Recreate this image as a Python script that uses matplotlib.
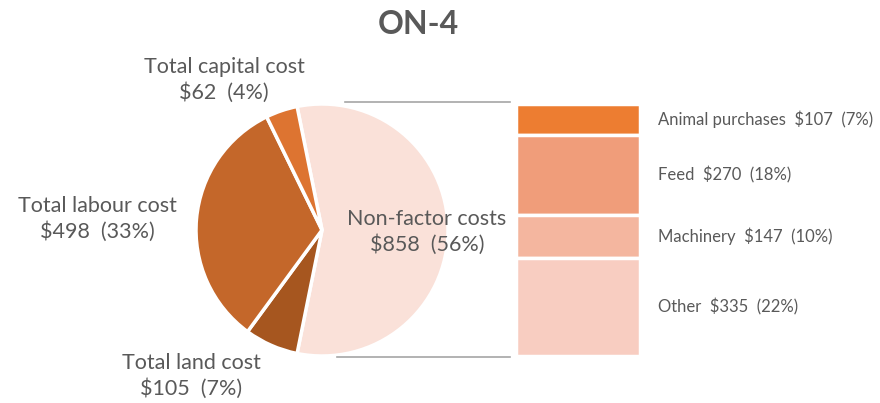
import numpy as np
import matplotlib.pyplot as plt

plt.rcParams['font.family'] = ['Lato', 'DejaVu Sans']

# pie data
pie_labels = ['Non-factor costs', 'Total land cost', 'Total labour cost', 'Total capital cost']
pie_values = [858, 105, 498, 62]
pie_pcts = [56, 7, 33, 4]
pie_colors = ['#FAE1D9', '#A6561F', '#C4672A', '#DD7431']

# bar-of-pie breakdown (top to bottom)
bar_labels = ['Animal purchases', 'Feed', 'Machinery', 'Other']
bar_values = [107, 270, 147, 335]
bar_pcts = [7, 18, 10, 22]
bar_colors = ['#ED7D31', '#F09D7A', '#F4B69F', '#F8CDC1']

TEXT = '#595959'
W, H = 880, 403

fig = plt.figure(figsize=(8.8, 4.03), dpi=100)
ax = fig.add_axes([0, 0, 1, 1])

cx, cy, r = 322, H - 230, 126
total = sum(pie_values)
start = 180 * pie_values[0] / total  # centre the big slice on the right
ax.pie(pie_values, colors=pie_colors, startangle=start, counterclock=False,
       center=(cx, cy), radius=r, frame=True,
       wedgeprops=dict(edgecolor='white', linewidth=2.5))
ax.set_xlim(0, W)
ax.set_ylim(0, H)
ax.axis('off')

# pie labels
label_pos = [(427, H - 232), (191, H - 376), (97, H - 219), (224, H - 80)]
for lab, v, p, (x, y) in zip(pie_labels, pie_values, pie_pcts, label_pos):
    ax.text(x, y, f'{lab}\n${v}  ({p}%)', ha='center', va='center', fontsize=15.5,
            color=TEXT, linespacing=1.3)

# stacked bar
bar_x, bar_w = 578, 124
top, bottom = H - 104, H - 356
scale = (top - bottom) / sum(bar_values)
y = top
for lab, v, p, c in zip(bar_labels, bar_values, bar_pcts, bar_colors):
    h = v * scale
    ax.bar(bar_x, h, width=bar_w, bottom=y - h, color=c, edgecolor='white', linewidth=2.5)
    ax.text(658, y - h / 2, f'{lab}  ${v}  ({p}%)', ha='left', va='center',
            fontsize=12, color=TEXT)
    y -= h

# connector lines
ax.plot([345, 510], [H - 102, H - 102], color='#A6A6A6', linewidth=1.2)
ax.plot([337, 510], [H - 357, H - 357], color='#A6A6A6', linewidth=1.2)

ax.text(418, H - 25, 'ON-4', ha='center', va='center', fontsize=23, fontweight='bold', color=TEXT)

fig.savefig('out.png', dpi=100)
